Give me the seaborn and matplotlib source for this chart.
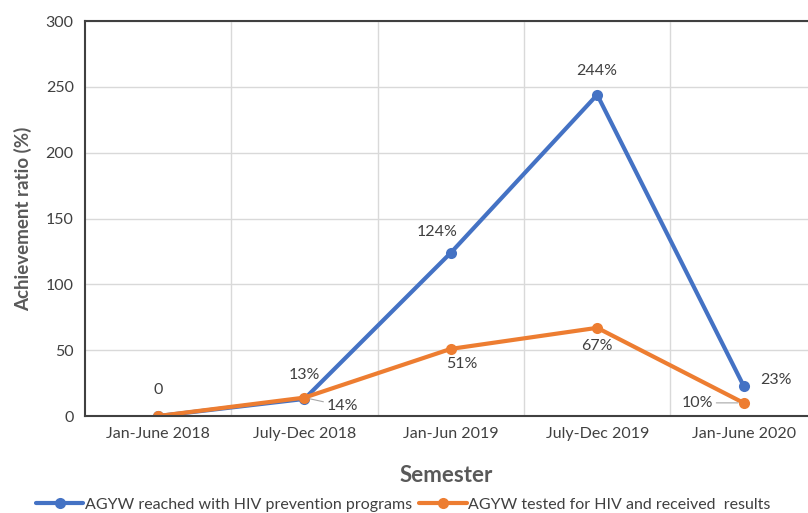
import pandas as pd
import matplotlib.pyplot as plt
import seaborn as sns

semesters = ["Jan-June 2018", "July-Dec 2018", "Jan-Jun 2019", "July-Dec 2019", "Jan-June 2020"]
reached = [0, 13, 124, 244, 23]
tested = [0, 14, 51, 67, 10]
reached_labels = ["0", "13%", "124%", "244%", "23%"]
tested_labels = ["", "14%", "51%", "67%", "10%"]
series_names = ["AGYW reached with HIV prevention programs",
                "AGYW tested for HIV and received  results"]

df = pd.DataFrame({
    "Semester": semesters * 2,
    "value": reached + tested,
    "series": [series_names[0]] * 5 + [series_names[1]] * 5,
})

sns.set_style("white")
plt.rcParams["font.family"] = ["Lato", "DejaVu Sans"]

fig = plt.figure(figsize=(8.08, 5.13), dpi=100)
ax = fig.add_axes([0.105, 0.189, 0.895, 0.770])

blue = "#4472C4"
orange = "#ED7D31"
sns.lineplot(data=df, x="Semester", y="value", hue="series", style="series",
             palette=[blue, orange], markers=["o", "o"], dashes=False,
             linewidth=3, markersize=8, markeredgewidth=0, sort=False, ax=ax)

ax.set_ylim(0, 300)
ax.set_xlim(-0.5, 4.44)
ax.set_yticks(range(0, 301, 50))
ax.set_xticks(range(5))
ax.set_xticklabels(semesters)
ax.set_xticks([0.5, 1.5, 2.5, 3.5], minor=True)
ax.grid(axis="y", which="major", color="#d9d9d9", linewidth=1)
ax.grid(axis="x", which="minor", color="#d9d9d9", linewidth=1)
ax.grid(axis="x", which="major", visible=False)
ax.set_axisbelow(True)
ax.tick_params(axis="both", which="both", length=0, labelsize=11.5,
               labelcolor="#404040", pad=8)

for side in ["left", "bottom", "top"]:
    ax.spines[side].set_color("#404040")
    ax.spines[side].set_linewidth(1.5)
ax.spines["right"].set_visible(False)

ax.set_xlabel("Semester", fontsize=16, fontweight="bold", color="#595959", labelpad=17)
ax.set_ylabel("Achievement ratio (%)", fontsize=13.5, fontweight="bold", color="#595959", labelpad=10)

txt = dict(fontsize=11.5, color="#404040")
# blue labels
offsets_blue = [(0, 14), (0, 12), (-10, 10), (0, 12), (12, 4)]
for i, (lab, off) in enumerate(zip(reached_labels, offsets_blue)):
    ha = "center"
    if i == 4:
        ha = "left"
    ax.annotate(lab, (i, reached[i]), xytext=off, textcoords="offset points",
                ha=ha, va="bottom" if i != 4 else "center", **txt)

# orange labels
ax.annotate(tested_labels[1], (1, tested[1]), xytext=(16, -6), textcoords="offset points",
            ha="left", va="center",
            arrowprops=dict(arrowstyle="-", color="#a6a6a6", lw=0.8, shrinkA=0, shrinkB=4), **txt)
ax.annotate(tested_labels[2], (2, tested[2]), xytext=(8, -6), textcoords="offset points",
            ha="center", va="top", **txt)
ax.annotate(tested_labels[3], (3, tested[3]), xytext=(0, -8), textcoords="offset points",
            ha="center", va="top", **txt)
ax.annotate(tested_labels[4], (4, tested[4]), xytext=(-22, 0), textcoords="offset points",
            ha="right", va="center",
            arrowprops=dict(arrowstyle="-", color="#a6a6a6", lw=0.8, shrinkA=0, shrinkB=4), **txt)

ax.legend(loc="upper center", bbox_to_anchor=(0.44, -0.17), ncol=2, frameon=False,
          fontsize=11.5, handlelength=3, columnspacing=0.4, handletextpad=0.1,
          labelcolor="#404040")

fig.savefig("out.png", dpi=100)
